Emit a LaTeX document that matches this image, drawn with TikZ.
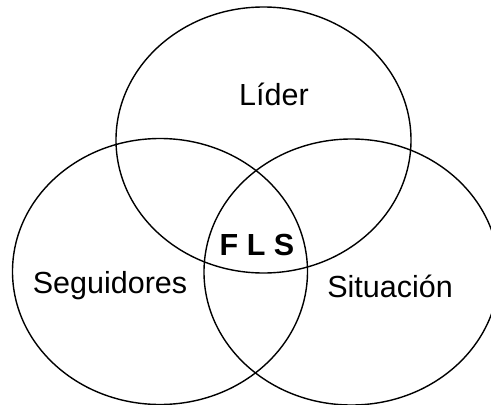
\documentclass[tikz,border=0pt]{standalone}
\usepackage{fontspec}
\setmainfont{Liberation Sans}
\usetikzlibrary{shapes.geometric}
\begin{document}
\begin{tikzpicture}[x=1pt,y=-1pt,
  setbox/.style={draw=black, line width=1.4pt, ellipse, inner sep=0pt,
    minimum width=295pt, minimum height=266pt},
  lbl/.style={font=\fontsize{30.5}{36}\selectfont, inner sep=0pt}]
\useasboundingbox (0,0) rectangle (491,405);
\begin{scope}
\clip (0,0) rectangle (491,405);
\node[setbox] (lider) at (263.5,140) {};
\node[setbox] (seg) at (160,271.5) {};
\node[setbox] (sit) at (351.5,272) {};
\end{scope}
\node[lbl] (tl) at (274,94) {Líder};
\node[lbl] (ts) at (110,286) {Seguidores};
\node[lbl] (tsi) at (390,286) {Situación};
\node[lbl, font=\bfseries\fontsize{30.5}{36}\selectfont] (fls) at (257,245) {F L S};
\end{tikzpicture}
\end{document}
